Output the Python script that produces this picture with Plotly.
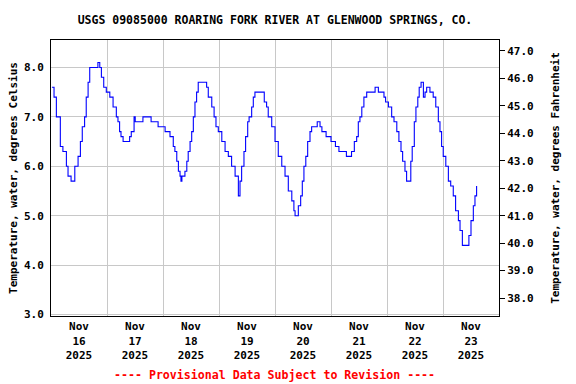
import pandas as pd
import plotly.graph_objects as go

# hours since 2025-11-16 00:00 and water temperature (deg C)
hours = [0.4, 1.3, 2.3, 4.0, 5.1, 6.6, 7.3, 8.6, 10.2, 11.6, 12.6, 13.4, 14.4, 15.1, 15.9, 16.6,
         19.4, 20.1, 20.9, 21.6, 22.6, 23.7, 25.2, 26.6, 28.0, 28.7, 29.4, 30.0, 30.9, 33.7, 34.4,
         35.6, 36.1, 39.4, 42.9, 45.9, 48.9, 51.0, 52.4, 53.1, 53.9, 54.6, 55.3, 55.7, 56.1, 57.4,
         58.2, 58.8, 59.6, 60.3, 61.0, 61.7, 62.4, 63.1, 66.7, 67.4, 68.9, 69.9, 70.7, 71.7, 73.2,
         74.6, 76.0, 77.4, 78.9, 80.3, 81.0, 81.7, 82.7, 83.4, 84.3, 84.9, 86.0, 86.7, 87.4, 90.6,
         91.4, 92.4, 93.1, 94.6, 96.0, 97.4, 98.9, 100.3, 101.7, 103.2, 104.1, 104.6, 106.0, 107.0,
         107.7, 108.4, 109.2, 110.0, 111.0, 111.7, 114.1, 115.3, 116.1, 117.9, 120.0, 121.9, 123.4,
         126.6, 128.8, 130.0, 131.0, 131.7, 132.4, 133.2, 134.1, 135.3, 138.9, 140.3, 142.7, 143.4,
         144.6, 146.0, 147.0, 148.2, 149.1, 150.0, 150.7, 151.7, 152.4, 154.2, 154.8, 155.7, 156.4,
         157.2, 157.8, 158.6, 159.6, 160.3, 161.0, 162.4, 163.8, 164.9, 166.0, 166.7, 167.4, 168.1,
         169.2, 170.3, 171.3, 172.4, 173.4, 174.6, 175.3, 176.3, 178.4, 179.1, 180.0, 181.0, 181.7,
         182.4]
temp_c = [7.6, 7.4, 7.0, 6.4, 6.3, 6.0, 5.8, 5.7, 6.0, 6.2, 6.5, 6.8, 7.0, 7.4, 7.7, 8.0,
          8.0, 8.1, 8.0, 7.8, 7.6, 7.5, 7.4, 7.2, 7.0, 6.9, 6.7, 6.6, 6.5, 6.6, 6.7,
          7.0, 6.9, 7.0, 6.9, 6.8, 6.7, 6.6, 6.4, 6.3, 6.1, 5.9, 5.8, 5.7, 5.8, 5.9,
          6.1, 6.3, 6.5, 6.7, 7.0, 7.3, 7.5, 7.7, 7.6, 7.4, 7.2, 7.0, 6.8, 6.7, 6.5,
          6.3, 6.2, 6.0, 5.8, 5.4, 5.7, 6.0, 6.3, 6.6, 6.9, 7.0, 7.2, 7.4, 7.5, 7.5,
          7.3, 7.2, 7.0, 6.8, 6.5, 6.2, 6.0, 5.8, 5.5, 5.3, 5.1, 5.0, 5.2, 5.4,
          5.7, 6.0, 6.2, 6.5, 6.7, 6.8, 6.9, 6.8, 6.7, 6.6, 6.5, 6.4, 6.3,
          6.2, 6.3, 6.5, 6.6, 6.9, 7.0, 7.2, 7.4, 7.5, 7.6, 7.5, 7.4, 7.3,
          7.2, 7.0, 6.9, 6.7, 6.5, 6.3, 6.1, 5.9, 5.7, 6.1, 6.4, 6.9, 7.2,
          7.4, 7.6, 7.7, 7.4, 7.5, 7.6, 7.5, 7.4, 7.2, 6.9, 6.7, 6.4, 6.2,
          6.0, 5.7, 5.6, 5.4, 5.1, 4.9, 4.7, 4.4, 4.4, 4.6, 4.9, 5.2, 5.4,
          5.6]

day_labels = ["16", "17", "18", "19", "20", "21", "22", "23"]
c_ticks = [3.0, 4.0, 5.0, 6.0, 7.0, 8.0]
f_ticks = [38.0, 39.0, 40.0, 41.0, 42.0, 43.0, 44.0, 45.0, 46.0, 47.0]

base = pd.Timestamp("2025-11-16 00:00")
times = [base + pd.Timedelta(hours=h) for h in hours]
tick_times = [base + pd.Timedelta(days=i, hours=12) for i in range(len(day_labels))]
tick_text = [f"Nov<br>{d}<br>2025" for d in day_labels]

c_range = [2.97, 8.555]
f_range = [c * 1.8 + 32 for c in c_range]

FONT = "DejaVu Sans Mono"
fig = go.Figure()
fig.add_trace(go.Scatter(x=times, y=temp_c, mode="lines", line=dict(color="#0000FF", width=1.1, shape="hv"),
                         showlegend=False, hoverinfo="skip"))
# invisible trace to activate right axis
fig.add_trace(go.Scatter(x=[times[0]], y=[temp_c[0] * 1.8 + 32], yaxis="y2", mode="lines",
                         line=dict(width=0), showlegend=False, hoverinfo="skip"))

fig.update_layout(
    width=576, height=384,
    margin=dict(l=51, r=77, t=40, b=68, autoexpand=False),
    paper_bgcolor="white", plot_bgcolor="white",
    font=dict(family=FONT, size=11, color="black", weight="bold"),
    title=dict(text="USGS 09085000 ROARING FORK RIVER AT GLENWOOD SPRINGS, CO.",
               x=0.4774, xanchor="center", y=1 - 20 / 384, yanchor="middle", yref="container",
               font=dict(family=FONT, size=11.5, color="black", weight="bold")),
    xaxis=dict(
        range=[base, base + pd.Timedelta(days=8)], automargin=False,
        tickmode="array", tickvals=tick_times, ticktext=tick_text,
        showgrid=False, ticks="", showline=True, linecolor="black", linewidth=1, mirror=True,
        tickfont=dict(family=FONT, size=11, weight="bold"),
        minor=dict(tick0=base, dtick=86400000, showgrid=True, gridcolor="#c8c8c8", gridwidth=1, ticks=""),
        zeroline=False,
    ),
    yaxis=dict(
        range=c_range, tickmode="array", tickvals=c_ticks, ticktext=[f"{v:.1f}" for v in c_ticks],
        showgrid=True, gridcolor="#c8c8c8", gridwidth=1, ticks="", automargin=False,
        showline=True, linecolor="black", linewidth=1, zeroline=False, ticklabelstandoff=4,
        title=dict(text="Temperature, water, degrees Celsius", standoff=4,
                   font=dict(family=FONT, size=11, weight="bold")),
        tickfont=dict(family=FONT, size=11, weight="bold"),
    ),
    yaxis2=dict(
        range=f_range, overlaying="y", side="right", tickmode="array", tickvals=f_ticks,
        ticktext=[f"{v:.1f}" for v in f_ticks], showgrid=False, ticks="outside", ticklen=5,
        tickcolor="black", showline=True, linecolor="black", linewidth=1, zeroline=False,
        automargin=False,
        title=dict(text="Temperature, water, degrees Fahrenheit", standoff=18,
                   font=dict(family=FONT, size=11, weight="bold")),
        tickfont=dict(family=FONT, size=11, weight="bold"),
    ),
    annotations=[dict(text="---- Provisional Data Subject to Revision ----", xref="paper", yref="paper",
                      x=0.499, y=-(375 - 316) / 276, xanchor="center", yanchor="middle", showarrow=False,
                      font=dict(family=FONT, size=11.6, color="red", weight="bold"))],
)

fig.write_html("out.html", config={"displayModeBar": False},
               post_script="document.body.style.margin='0';")
